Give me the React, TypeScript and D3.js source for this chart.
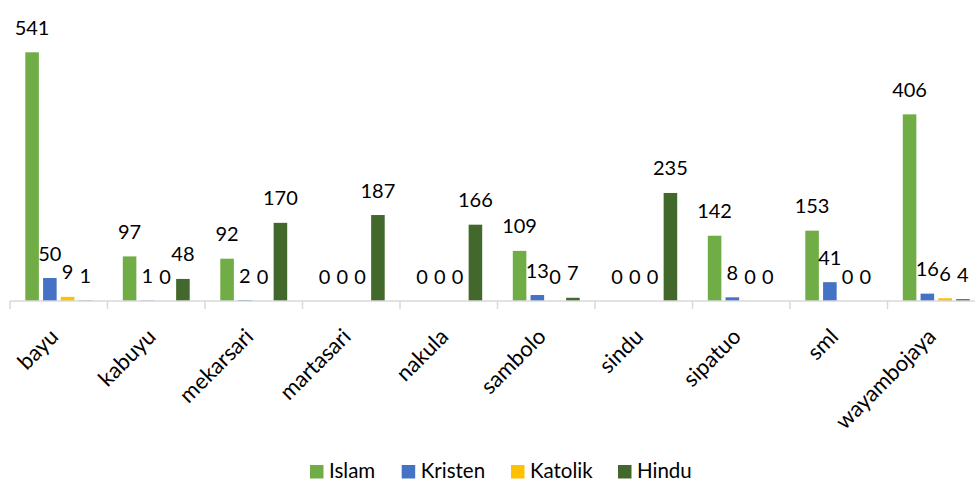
import React from "react";
import * as d3 from "d3";

const categories = ["bayu", "kabuyu", "mekarsari", "martasari", "nakula", "sambolo", "sindu", "sipatuo", "sml", "wayambojaya"];
const seriesNames = ["Islam", "Kristen", "Katolik", "Hindu"];
const islam = [541, 97, 92, 0, 0, 109, 0, 142, 153, 406];
const kristen = [50, 1, 2, 0, 0, 13, 0, 8, 41, 16];
const katolik = [9, 0, 0, 0, 0, 0, 0, 0, 0, 6];
const hindu = [1, 48, 170, 187, 166, 7, 235, 0, 0, 4];
const colors = ["#70AD47", "#4472C4", "#FFC000", "#43682B"];

export default function App() {
  const W = 975, H = 482;
  const left = 10, right = 985, baseline = 301;
  const yMax = 600;
  const x = d3.scaleBand<string>().domain(categories).range([left, right]).paddingInner(0).paddingOuter(0);
  const y = d3.scaleLinear().domain([0, yMax]).range([baseline, baseline - yMax * 0.4597]);
  const bw = x.bandwidth();
  const inner = d3.scaleBand<string>().domain(seriesNames).range([15.3, bw - 15.3]).paddingInner(0.237).paddingOuter(0);
  const data = [islam, kristen, katolik, hindu];
  const font = "Lato, 'Open Sans', sans-serif";
  const legendX = [310, 401.7, 511, 618];
  return (
    <svg width={W} height={H} style={{ position: "absolute", left: 0, top: 0, background: "#fff" }}>
      {categories.map((c, i) => (
        <g key={c}>
          {seriesNames.map((s, j) => {
            const v = data[j][i];
            const bx = (x(c) as number) + (inner(s) as number);
            const w = inner.bandwidth();
            return (
              <g key={s}>
                {v > 0 && <rect x={bx} y={y(v)} width={w} height={baseline - y(v)} fill={colors[j]} />}
                <text x={bx + w / 2} y={y(v) - 17.5} textAnchor="middle" fontFamily={font} fontSize={20} fill="#000">{v}</text>
              </g>
            );
          })}
        </g>
      ))}
      <line x1={left} x2={right} y1={baseline} y2={baseline} stroke="#d9d9d9" strokeWidth={1.5} />
      {d3.range(categories.length + 1).map((i) => {
        const tx = left + i * bw;
        return <line key={i} x1={tx} x2={tx} y1={baseline} y2={baseline + 8} stroke="#d9d9d9" strokeWidth={1.5} />;
      })}
      {categories.map((c) => {
        const cx = (x(c) as number) + bw / 2;
        return (
          <text key={c} transform={`translate(${cx + 1},${baseline + 37}) rotate(-45)`} textAnchor="end" fontFamily={font} fontSize={22} fill="#000">{c}</text>
        );
      })}
      {seriesNames.map((s, j) => (
        <g key={s}>
          <rect x={legendX[j]} y={465} width={13.5} height={13.5} fill={colors[j]} />
          <text x={legendX[j] + 19} y={478} fontFamily={font} fontSize={20.5} fill="#000">{s}</text>
        </g>
      ))}
    </svg>
  );
}
